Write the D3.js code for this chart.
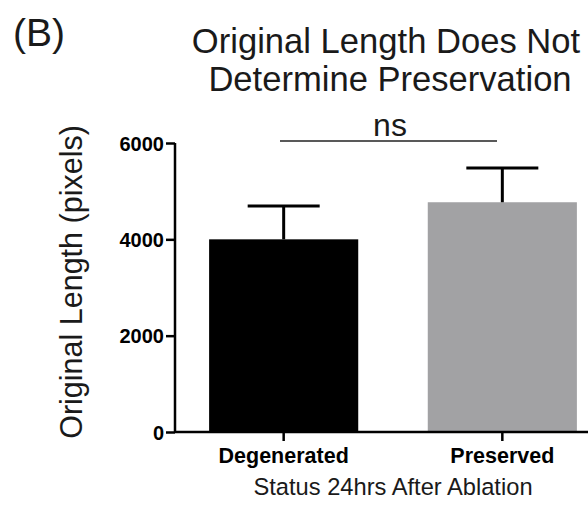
<!DOCTYPE html>
<html>
<head>
<meta charset="utf-8">
<script src="https://cdn.jsdelivr.net/npm/d3@7"></script>
<style>
  body { margin: 0; background: #fff; }
  svg { display: block; }
  text { font-family: "Liberation Sans", Arial, sans-serif; }
</style>
</head>
<body>
<svg id="chart" width="588" height="508"></svg>
<script>
const categories = ["Degenerated", "Preserved"];
const means = [4000, 4770];
const sems = [690, 710];
const barColors = ["#000000", "#a2a2a4"];
const yTicks = [0, 2000, 4000, 6000];

const svg = d3.select("#chart");

const x = d3.scaleBand()
  .domain(categories)
  .range([175, 611])
  .paddingInner(0.318)
  .paddingOuter(0.156);

const y = d3.scaleLinear().domain([0, 6000]).range([432, 143]);

// bars
svg.append("g")
  .selectAll("rect")
  .data(categories)
  .join("rect")
  .attr("x", (d) => x(d))
  .attr("y", (d, i) => y(means[i]))
  .attr("width", x.bandwidth())
  .attr("height", (d, i) => y(0) - y(means[i]))
  .attr("fill", (d, i) => barColors[i]);

// error bars (upper half only)
const capHalf = 36;
const err = svg.append("g").attr("stroke", "#000").attr("stroke-width", 3);
categories.forEach((c, i) => {
  const cx = x(c) + x.bandwidth() / 2;
  err.append("line")
    .attr("x1", cx).attr("x2", cx)
    .attr("y1", y(means[i])).attr("y2", y(means[i] + sems[i]));
  err.append("line")
    .attr("x1", cx - capHalf).attr("x2", cx + capHalf)
    .attr("y1", y(means[i] + sems[i])).attr("y2", y(means[i] + sems[i]));
});

// y axis
const yAxis = svg.append("g")
  .attr("transform", "translate(175,0)")
  .call(d3.axisLeft(y).tickValues(yTicks).tickSize(9).tickPadding(2).tickFormat(d3.format("d")));
yAxis.select(".domain").attr("stroke-width", 2.5).attr("d", "M0,143V432");
yAxis.selectAll(".tick line").attr("stroke-width", 2.5);
yAxis.selectAll(".tick text")
  .attr("font-size", 20)
  .attr("font-weight", "bold")
  .attr("font-family", "'Liberation Sans', Arial, sans-serif")
  .attr("fill", "#000")
  .attr("dy", "0.36em");

// x axis
const xAxis = svg.append("g")
  .attr("transform", "translate(0,432)")
  .call(d3.axisBottom(x).tickSize(9).tickPadding(7));
xAxis.select(".domain").attr("stroke-width", 2.5).attr("d", "M175,0H600");
xAxis.selectAll(".tick line").attr("stroke-width", 2.5);
xAxis.selectAll(".tick text")
  .attr("font-size", 21.5)
  .attr("font-weight", "bold")
  .attr("font-family", "'Liberation Sans', Arial, sans-serif")
  .attr("fill", "#000");

// axis titles
svg.append("text")
  .attr("x", 393).attr("y", 495)
  .attr("text-anchor", "middle")
  .attr("font-size", 23.7)
  .attr("fill", "#1a1a1a")
  .text("Status 24hrs After Ablation");

svg.append("text")
  .attr("transform", "translate(82,282) rotate(-90)")
  .attr("text-anchor", "middle")
  .attr("font-size", 30.5)
  .attr("fill", "#1a1a1a")
  .text("Original Length (pixels)");

// title
const title = svg.append("text")
  .attr("text-anchor", "middle")
  .attr("font-size", 34.6)
  .attr("fill", "#1a1a1a");
title.append("tspan").attr("x", 386).attr("y", 53).text("Original Length Does Not");
title.append("tspan").attr("x", 390).attr("y", 91).text("Determine Preservation");

svg.append("text")
  .attr("x", 13).attr("y", 46)
  .attr("font-size", 39)
  .attr("fill", "#1a1a1a")
  .text("(B)");

// significance bracket
svg.append("line")
  .attr("x1", 280).attr("x2", 497)
  .attr("y1", 141).attr("y2", 141)
  .attr("stroke", "#222").attr("stroke-width", 1.5);
svg.append("text")
  .attr("x", 390).attr("y", 136)
  .attr("text-anchor", "middle")
  .attr("font-size", 32)
  .attr("fill", "#1a1a1a")
  .text("ns");
</script>
</body>
</html>
